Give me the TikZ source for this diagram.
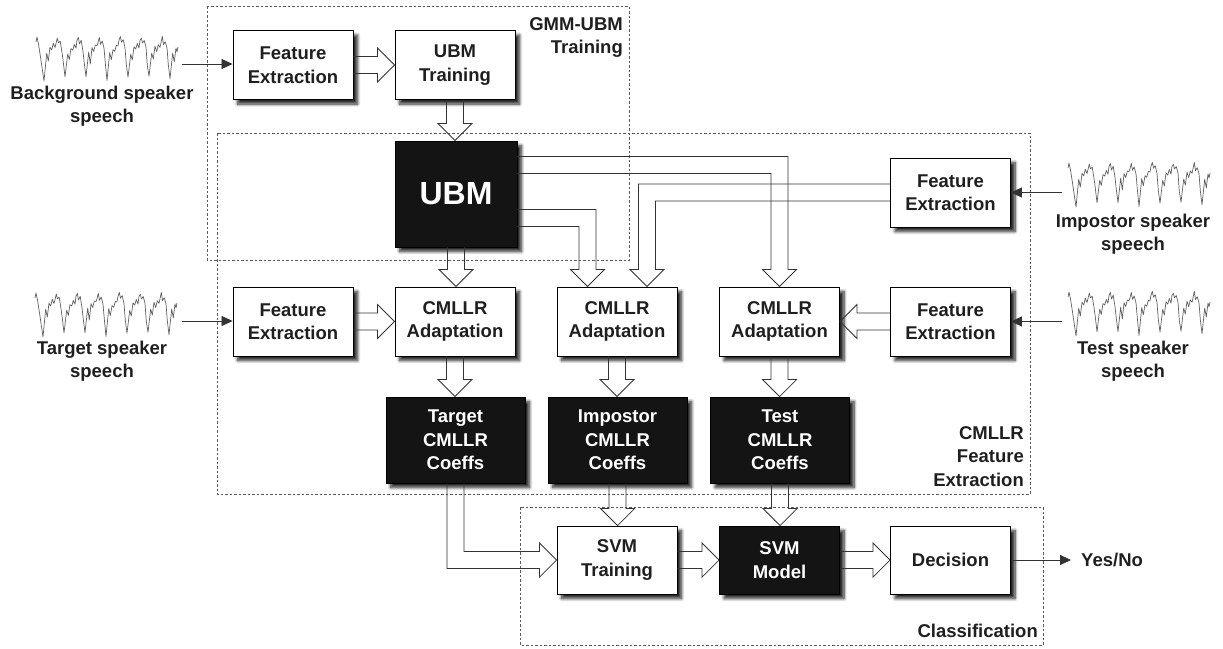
\documentclass[tikz,border=0pt]{standalone}
\usepackage{fontspec}
\setmainfont{Liberation Sans}
\usetikzlibrary{calc,arrows.meta,shadows.blur}

\newcommand\lblfont{\fontsize{18.5}{23.5}\selectfont\bfseries}

\tikzset{
  box/.style={draw=black, line width=0.9pt, fill=white, inner sep=0pt, align=center,
    font=\lblfont, text=black!88, minimum width=120pt, minimum height=69pt,
    blur shadow={shadow xshift=4.5pt, shadow yshift=-4.5pt, shadow blur radius=3pt,
      shadow blur steps=8, shadow opacity=85}},
  darkbox/.style={box, fill=black!92, text=white},
  coeffbox/.style={darkbox, minimum width=139pt, minimum height=86pt},
  frame/.style={draw=black!65, line width=0.9pt, dash pattern=on 2.5pt off 2pt},
  blockarrow/.style={draw=black!80, line width=0.8pt, line join=miter},
  feed/.style={draw=black!80, line width=0.8pt, -{Triangle[length=11pt,width=10pt]}},
  lab/.style={font=\lblfont, align=center, inner sep=0pt, text=black!88},
  wavepen/.style={draw=black!62, line width=0.7pt, line join=round},
  % a short speech waveform, 142 wide and about 47 deep, origin at its top left
  wave/.pic={
    \pgfmathsetseed{11}
    \draw[wavepen] (0,7) -- (1,2) -- (2.5,9) -- (4.5,22) -- (8,46)
      \foreach \i in {0,...,5}{
        -- ({8+21*\i+2.7},{18+3*rand}) -- ({8+21*\i+4.3},{27+3*rand})
        -- ({8+21*\i+6},{13+2*rand}) -- ({8+21*\i+7.7},{16+2*rand})
        -- ({8+21*\i+9.3},{9+2*rand}) -- ({8+21*\i+11},{12+2*rand})
        -- ({8+21*\i+12},{7+2*rand}) -- ({8+21*\i+13.3},{2+1.5*rand})
        -- ({8+21*\i+14.5},{8+2*rand}) -- ({8+21*\i+16.2},{5+2*rand})
        -- ({8+21*\i+18},{15+3*rand}) -- ({8+21*\i+19.3},{28+3*rand})
        -- ({8+21*\i+21},{44+3*rand})}
      -- (136.7,18) -- (138.3,27) -- (140,13) -- (141,17) -- (142,12);
  }
}

% block arrow straight down: from the bottom of #1 to the top of #2
\newcommand\vblk[2]{%
  \draw[blockarrow] let \p1=(#1.south), \p2=(#2.north) in
    (\x1-8.5pt,\y1) -- (\x1-8.5pt,\y2+17pt) -- (\x1-17pt,\y2+17pt) -- (\x1,\y2)
    -- (\x1+17pt,\y2+17pt) -- (\x1+8.5pt,\y2+17pt) -- (\x1+8.5pt,\y1);}
% block arrow to the right: from the right side of #1 to the left side of #2
\newcommand\hblk[2]{%
  \draw[blockarrow] let \p1=(#1.east), \p2=(#2.west) in
    (\x1,\y1+8.5pt) -- (\x2-17pt,\y1+8.5pt) -- (\x2-17pt,\y1+17pt) -- (\x2,\y1)
    -- (\x2-17pt,\y1-17pt) -- (\x2-17pt,\y1-8.5pt) -- (\x1,\y1-8.5pt);}
% block arrow to the left: from the left side of #1 to the right side of #2
\newcommand\hblkl[2]{%
  \draw[blockarrow] let \p1=(#1.west), \p2=(#2.east) in
    (\x1,\y1+8.5pt) -- (\x2+17pt,\y1+8.5pt) -- (\x2+17pt,\y1+17pt) -- (\x2,\y1)
    -- (\x2+17pt,\y1-17pt) -- (\x2+17pt,\y1-8.5pt) -- (\x1,\y1-8.5pt);}
% elbow: out of the right side of #1 (offset #2), then down into #3 (offset #4)
\newcommand\rdblk[4]{%
  \draw[blockarrow] let \p1=($(#1.east)+(0,#2)$), \p2=($(#3.north)+(#4,0)$) in
    (\x1,\y1+8.5pt) -- (\x2+8.5pt,\y1+8.5pt) -- (\x2+8.5pt,\y2+17pt) -- (\x2+17pt,\y2+17pt)
    -- (\x2,\y2) -- (\x2-17pt,\y2+17pt) -- (\x2-8.5pt,\y2+17pt) -- (\x2-8.5pt,\y1-8.5pt)
    -- (\x1,\y1-8.5pt);}
% elbow: out of the left side of #1 (offset #2), then down into #3 (offset #4)
\newcommand\ldblk[4]{%
  \draw[blockarrow] let \p1=($(#1.west)+(0,#2)$), \p2=($(#3.north)+(#4,0)$) in
    (\x1,\y1+8.5pt) -- (\x2-8.5pt,\y1+8.5pt) -- (\x2-8.5pt,\y2+17pt) -- (\x2-17pt,\y2+17pt)
    -- (\x2,\y2) -- (\x2+17pt,\y2+17pt) -- (\x2+8.5pt,\y2+17pt) -- (\x2+8.5pt,\y1-8.5pt)
    -- (\x1,\y1-8.5pt);}
% elbow: out of the bottom of #1 (offset #2), then right into #3
\newcommand\drblk[3]{%
  \draw[blockarrow] let \p1=($(#1.south)+(#2,0)$), \p2=(#3.west) in
    (\x1-8.5pt,\y1) -- (\x1-8.5pt,\y2-8.5pt) -- (\x2-17pt,\y2-8.5pt) -- (\x2-17pt,\y2-17pt)
    -- (\x2,\y2) -- (\x2-17pt,\y2+17pt) -- (\x2-17pt,\y2+8.5pt) -- (\x1+8.5pt,\y2+8.5pt)
    -- (\x1+8.5pt,\y1);}

\begin{document}
\begin{tikzpicture}[x=1pt,y=-1pt]
\useasboundingbox (0,0) rectangle (1223,648);

% group frames
\draw[frame] (207,6) rectangle (629,260);
\draw[frame] (217,133) rectangle (1030,494);
\draw[frame] (520,507) rectangle (1043,645);
\node[lab, align=right, anchor=north east] (gmmlab) at (623,17) {GMM-UBM\\Training};
\node[lab, align=right, anchor=north east] (cmllab) at (1024,426) {CMLLR\\Feature\\Extraction};
\node[lab, anchor=east] (clslab) at (1038,631) {Classification};

% speech inputs
\pic at (36,35) {wave};
\pic at (35,291) {wave};
\pic at (1068,161) {wave};
\pic at (1068,290) {wave};
\node[lab] (bglab) at (102,106) {Background speaker\\speech};
\node[lab] (tglab) at (102,361) {Target speaker\\speech};
\node[lab] (imlab) at (1133,234) {Impostor speaker\\speech};
\node[lab] (tslab) at (1133,361) {Test speaker\\speech};
\coordinate (bgw) at (182,64);
\coordinate (tgw) at (182,321);
\coordinate (imw) at (1062,192.5);
\coordinate (tsw) at (1062,321.5);

% processing blocks
\node[box] (fe1) at (293,65) {Feature\\Extraction};
\node[box] (ubmt) at (455,65) {UBM\\Training};
\node[darkbox, minimum width=122pt, minimum height=106pt,
      font=\fontsize{32}{36}\selectfont\bfseries] (ubm) at (456,194) {UBM};
\node[box] (fe4) at (950.5,192.5) {Feature\\Extraction};
\node[box] (fe2) at (293,321.5) {Feature\\Extraction};
\node[box] (cm1) at (455,321.5) {CMLLR\\Adaptation};
\node[box] (cm2) at (617,321.5) {CMLLR\\Adaptation};
\node[box] (cm3) at (779.5,321.5) {CMLLR\\Adaptation};
\node[box] (fe3) at (950.5,321.5) {Feature\\Extraction};
\node[coeffbox] (tc) at (455.5,440) {Target\\CMLLR\\Coeffs};
\node[coeffbox] (ic) at (617.5,440) {Impostor\\CMLLR\\Coeffs};
\node[coeffbox] (sc) at (780,440) {Test\\CMLLR\\Coeffs};
\node[box, minimum height=68pt] (svt) at (617,560) {SVM\\Training};
\node[darkbox, minimum height=68pt] (svm) at (779.5,560) {SVM\\Model};
\node[box, minimum height=68pt] (dec) at (950.5,560) {Decision};
\node[lab, anchor=west] (ynlab) at (1081,560) {Yes/No};

% signal feeds
\draw[feed] (bgw) -- (bgw -| fe1.west);
\draw[feed] (tgw) -- (tgw -| fe2.west);
\draw[feed] (imw) -- (imw -| fe4.east);
\draw[feed] (tsw) -- (tsw -| fe3.east);
\draw[feed] (dec.east) -- ($(ynlab.west)+(-10,0)$);

% data flow
\hblk{fe1}{ubmt}
\vblk{ubmt}{ubm}
\vblk{ubm}{cm1}
\rdblk{ubm}{24}{cm2}{-29.5}
\rdblk{ubm}{-29}{cm3}{0}
\ldblk{fe4}{0}{cm2}{30}
\hblk{fe2}{cm1}
\hblkl{fe3}{cm3}
\vblk{cm1}{tc}
\vblk{cm2}{ic}
\vblk{cm3}{sc}
\drblk{tc}{0}{svt}
\vblk{ic}{svt}
\vblk{sc}{svm}
\hblk{svt}{svm}
\hblk{svm}{dec}
\end{tikzpicture}
\end{document}
